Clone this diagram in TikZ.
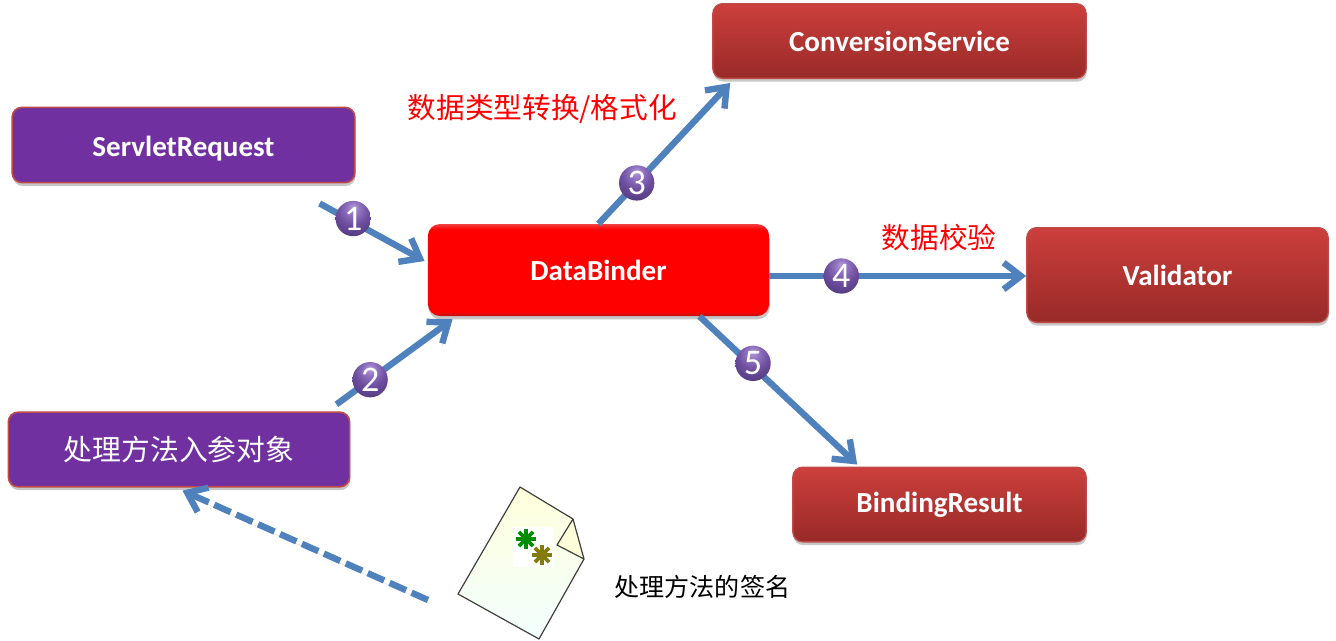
\documentclass[tikz,border=0pt]{standalone}
\usepackage{fontspec}
\setmainfont{Carlito}
\newfontfamily\cjk{Noto Sans CJK SC}
\usetikzlibrary{
  arrows.meta,
  shadows,      % Style "general shadow"
}
\definecolor{myblue}{HTML}{4F81BD}
\definecolor{myborder}{HTML}{BE4B48}
\definecolor{mypurple}{HTML}{7030A0}
\definecolor{redhigh}{HTML}{CC3F3C}
\definecolor{redlow}{HTML}{982A28}
\definecolor{mainlow}{HTML}{B01818}
\definecolor{mainhigh}{HTML}{F04040}
\definecolor{ballhigh}{HTML}{B39AD8}
\definecolor{ballup}{HTML}{8D70BE}
\definecolor{ballmid}{HTML}{6D4E9E}
\definecolor{balldown}{HTML}{5A3F88}
\definecolor{balllow}{HTML}{3F2C62}
\pgfdeclareverticalshading{mainshade}{100bp}{
  color(0bp)=(mainlow); color(25bp)=(mainlow); color(27bp)=(red);
  color(72bp)=(red); color(75bp)=(mainhigh); color(100bp)=(mainhigh)}
\pgfdeclareradialshading{ballshade}{\pgfpoint{0bp}{16bp}}{
  color(0bp)=(ballhigh); color(10bp)=(ballup); color(22bp)=(ballmid);
  color(33bp)=(balldown); color(41bp)=(balllow); color(100bp)=(balllow)}
\tikzset{
  x=0.75pt,
  y=-0.75pt,
  my box/.style={
    rounded corners=2.6mm,
    inner sep=0mm,
    text=white,
    font=\fontsize{21.8}{24}\selectfont\bfseries,
    general shadow={fill=black,opacity=0.22,shadow xshift=0.5pt,shadow yshift=-2.5pt}
  },
  my purple/.style={
    my box,
    draw=myborder,
    line width=1.2pt,
    fill=mypurple
  },
  my red/.style={
    my box,
    draw=myborder,
    line width=1pt,
    top color=redhigh,
    bottom color=redlow
  },
  my main/.style={
    my box,
    rounded corners=3.2mm,
    shading=mainshade
  },
  flow/.style={
    draw=myblue,
    line width=4.8pt,
    preaction={draw=black,opacity=0.13,transform canvas={yshift=-1.8pt}},
    -{Straight Barb[length=13pt,width=20pt,line width=4.8pt]}
  },
  badge/.style={
    circle,
    inner sep=0mm,
    minimum size=26.5pt,
    shading=ballshade,
    text=white,
    font=\fontsize{27}{27}\selectfont
  },
  label red/.style={
    text=red,
    font=\cjk\fontsize{21.5}{24}\selectfont
  }
}
\begin{document}
\begin{tikzpicture}
\useasboundingbox (0,0) rectangle (1336,640);

\node[my purple,minimum width=257pt,minimum height=56.5pt] (servletRequest) at (183.5,145) {\raisebox{-2.4pt}[\height][\depth]{ServletRequest}};
\node[my purple,minimum width=256pt,minimum height=56pt,font=\cjk\fontsize{21.6}{24}\selectfont] (handlerArg) at (179,449.5) {处理方法入参对象};
\node[my main,minimum width=256pt,minimum height=69pt] (dataBinder) at (598.5,270) {DataBinder};
\node[my red,minimum width=280pt,minimum height=56pt] (conversionService) at (899.5,41) {ConversionService};
\node[my red,minimum width=226pt,minimum height=71pt] (validator) at (1177.5,275) {Validator};
\node[my red,minimum width=220pt,minimum height=56pt] (bindingResult) at (939.5,504.5) {BindingResult};

\node[label red,anchor=west] (formatText) at (403,109) {数据类型转换/格式化};
\node[label red,anchor=west] (checkText) at (877,238) {数据校验};
\node[anchor=west,font=\cjk\fontsize{18.8}{21}\selectfont] (signText) at (610,587) {处理方法的签名};

% the file with its turned-down corner
\fill[top color=yellow!14!white,bottom color=green!5!cyan!5!white]
  (520,487) -- (573,519) -- (584,559) -- (539,639) -- (458,594) -- cycle;
\fill[white] (513,527) rectangle (554,567);
\fill[yellow!15!white] (573,519) -- (584,559) -- (557,545) -- cycle;
\draw[black!75,line width=0.9pt,line join=round]
  (573,519) -- (520,487) -- (458,594) -- (539,639) -- (584,559) -- (573,519) -- (557,545) -- (584,559);
\foreach \a in {0,45,...,135} {
  \draw[green!55!black,line width=2.8pt] (526,539) ++(\a:10) -- ++(\a+180:20);
  \draw[olive!90!black,line width=2.8pt] (542,555) ++(\a:10) -- ++(\a+180:20);
}
\coordinate (fileStart) at (428,600);

\path ([shift={(-36,20)}]servletRequest.south east) edge[flow] node[badge,pos=0.32,yshift=2.5pt] {1} ([shift={(-3,-9)}]dataBinder.west);
\path ([shift={(-14,-7)}]handlerArg.north east) edge[flow] node[badge,pos=0.29] {2} ([shift={(25,3)}]dataBinder.south west);
\path (dataBinder.north) edge[flow] node[badge,pos=0.29] {3} ([shift={(18,4)}]conversionService.south west);
\path ([yshift=-4.5pt]dataBinder.east) edge[flow] node[badge,pos=0.28] {4} ([yshift=-0.75pt]validator.west);
\path ([shift={(-70,0)}]dataBinder.south east) edge[flow] node[badge,pos=0.34,yshift=2.5pt] {5} ([shift={(65,-2)}]bindingResult.north west);
\path (fileStart) edge[flow,dash pattern=on 13.5pt off 4.5pt] ([shift={(-168,3)}]handlerArg.south east);
\end{tikzpicture}
\end{document}
